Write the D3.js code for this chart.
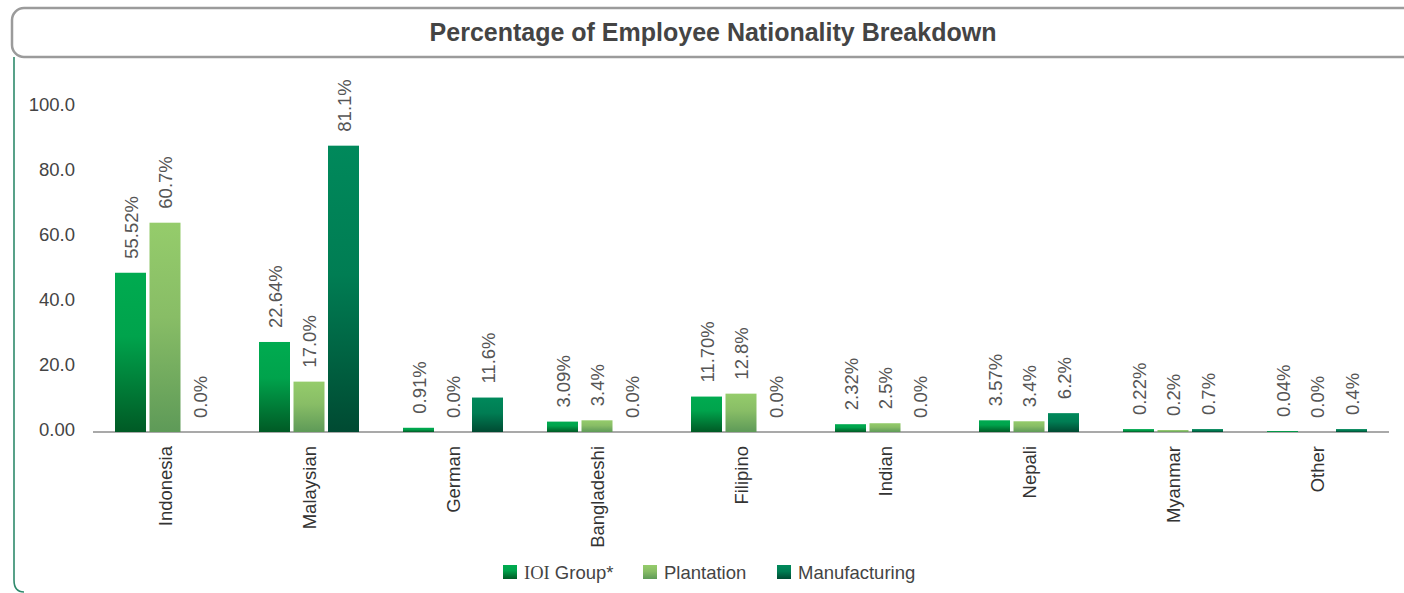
<!DOCTYPE html>
<html>
<head>
<meta charset="utf-8">
<script src="https://cdn.jsdelivr.net/npm/d3@7"></script>
<style>
  body { margin: 0; background: #fff; }
  svg { display: block; font-family: 'Liberation Sans', Arial, sans-serif; }
</style>
</head>
<body>
<div id="chart"></div>
<script>
// bar heights as drawn in the picture, labels as printed
const categories = ['Indonesia', 'Malaysian', 'German', 'Bangladeshi', 'Filipino', 'Indian', 'Nepali', 'Myanmar', 'Other'];
const ioiGroup = [49.0, 27.7, 1.3, 3.2, 10.9, 2.4, 3.6, 0.9, 0.3];
const plantation = [64.4, 15.5, 0, 3.6, 11.8, 2.7, 3.3, 0.6, 0];
const manufacturing = [0, 88.1, 10.6, 0, 0, 0, 5.8, 0.9, 0.9];
const ioiLabels = ['55.52%', '22.64%', '0.91%', '3.09%', '11.70%', '2.32%', '3.57%', '0.22%', '0.04%'];
const plantationLabels = ['60.7%', '17.0%', '0.0%', '3.4%', '12.8%', '2.5%', '3.4%', '0.2%', '0.0%'];
const manufacturingLabels = ['0.0%', '81.1%', '11.6%', '0.0%', '0.0%', '0.0%', '6.2%', '0.7%', '0.4%'];
const yTicks = [0, 20, 40, 60, 80, 100];
const yTickLabels = ['0.00', '20.0', '40.0', '60.0', '80.0', '100.0'];

const series = [
  { key: 'ioi', name: 'IOI Group*', values: ioiGroup, labels: ioiLabels,
    stops: [['0%', '#00ab50'], ['40%', '#00a34c'], ['100%', '#005a25']] },
  { key: 'plant', name: 'Plantation', values: plantation, labels: plantationLabels,
    stops: [['0%', '#95cc6b'], ['45%', '#88bd66'], ['100%', '#5e9a58']] },
  { key: 'manu', name: 'Manufacturing', values: manufacturing, labels: manufacturingLabels,
    stops: [['0%', '#00895b'], ['45%', '#007d53'], ['100%', '#004a32']] },
];

const W = 1404, H = 593;
const fs = 18.5;
const svg = d3.select('#chart').append('svg').attr('width', W).attr('height', H);

// gradients
const defs = svg.append('defs');
series.forEach((s) => {
  const g = defs.append('linearGradient').attr('id', `grad-${s.key}`)
    .attr('x1', 0).attr('y1', 0).attr('x2', 0).attr('y2', 1);
  s.stops.forEach(([o, c]) => g.append('stop').attr('offset', o).attr('stop-color', c));
});

// frame: green left rule and rounded title box
svg.append('path')
  .attr('d', 'M14,57 L14,580 Q14,592 24,592')
  .attr('fill', 'none').attr('stroke', '#2f8a6c').attr('stroke-width', 1.6);
svg.append('rect')
  .attr('x', 12).attr('y', 8).attr('width', 1410).attr('height', 49)
  .attr('rx', 12).attr('ry', 12)
  .attr('fill', '#fff').attr('stroke', '#9b9b9b').attr('stroke-width', 2.5);
svg.append('text')
  .attr('x', 713).attr('y', 34).attr('text-anchor', 'middle').attr('dominant-baseline', 'middle')
  .attr('font-size', 25).attr('font-weight', 'bold').attr('fill', '#444')
  .text('Percentage of Employee Nationality Breakdown');

// scales
const x0 = d3.scaleBand().domain(categories).range([93, 1389]);
const barW = 31, barGap = 3.5;
const groupW = barW * 3 + barGap * 2;
const x1 = d3.scaleBand().domain(series.map((s) => s.key))
  .range([0, groupW]).paddingInner(barGap / (barW + barGap));
const y = d3.scaleLinear().domain([0, 100]).range([432, 107]);

// y axis labels
const yAxis = svg.append('g').attr('transform', 'translate(75,0)')
  .call(d3.axisLeft(y).tickValues(yTicks).tickSize(0).tickPadding(0)
    .tickFormat((d, i) => yTickLabels[i]));
yAxis.select('.domain').remove();
yAxis.selectAll('text').attr('font-family', 'Liberation Sans, Arial, sans-serif')
  .attr('font-size', fs).attr('fill', '#444').attr('dy', '0.34em')
  .attr('transform', 'translate(0,-3)');

// baseline
svg.append('line')
  .attr('x1', x0.range()[0]).attr('x2', x0.range()[1])
  .attr('y1', y(0)).attr('y2', y(0))
  .attr('stroke', '#a9a9a9').attr('stroke-width', 2);

// bars
const groups = svg.selectAll('.grp').data(categories).enter().append('g')
  .attr('class', 'grp')
  .attr('transform', (d) => `translate(${x0(d) + (x0.bandwidth() - groupW) / 2},0)`);

series.forEach((s) => {
  groups.append('rect')
    .attr('x', x1(s.key)).attr('width', x1.bandwidth())
    .attr('y', (d, i) => y(s.values[i]))
    .attr('height', (d, i) => y(0) - y(s.values[i]))
    .attr('fill', `url(#grad-${s.key})`);
  groups.append('text')
    .attr('transform', (d, i) =>
      `translate(${x1(s.key) + x1.bandwidth() / 2 + 7},${y(s.values[i]) - 14}) rotate(-90)`)
    .attr('font-size', fs).attr('fill', '#555')
    .text((d, i) => s.labels[i]);
});

// category labels
svg.append('g').selectAll('text').data(categories).enter().append('text')
  .attr('transform', (d) => `translate(${x0(d) + x0.bandwidth() / 2 + 7},446) rotate(-90)`)
  .attr('text-anchor', 'end').attr('font-size', fs).attr('fill', '#333')
  .text((d) => d);

// legend
const legendX = [503, 643, 777];
const legend = svg.append('g');
series.forEach((s, i) => {
  legend.append('rect')
    .attr('x', legendX[i]).attr('y', 565).attr('width', 14).attr('height', 14)
    .attr('fill', `url(#grad-${s.key})`);
  const t = legend.append('text')
    .attr('x', legendX[i] + 21).attr('y', 579).attr('font-size', fs).attr('fill', '#444');
  if (s.key === 'ioi') {
    t.append('tspan').attr('font-family', 'Liberation Serif, Times New Roman, serif').text('IOI');
    t.append('tspan').text(' Group*');
  } else {
    t.text(s.name);
  }
});
</script>
</body>
</html>
